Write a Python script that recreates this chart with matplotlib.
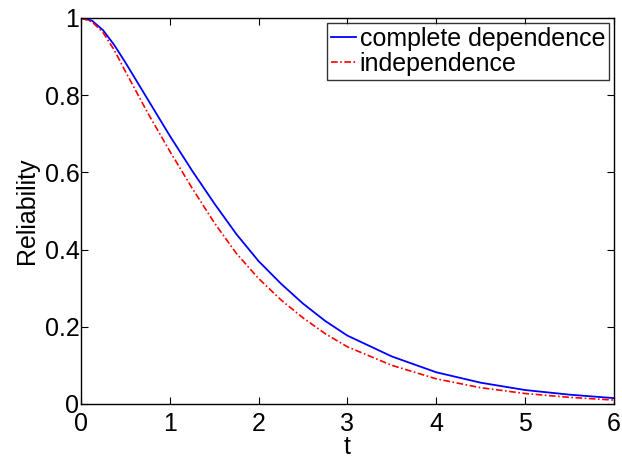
import matplotlib
matplotlib.use("Agg")
import matplotlib.pyplot as plt

t = [0, 0.125, 0.25, 0.375, 0.5, 0.75, 1, 1.25, 1.5, 1.75, 2, 2.25, 2.5, 2.75, 3, 3.5, 4, 4.5, 5, 5.5, 6]
complete_dep = [1, 0.993, 0.968, 0.93, 0.885, 0.79, 0.695, 0.605, 0.52, 0.44, 0.37, 0.312, 0.26, 0.215,
                0.177, 0.123, 0.082, 0.055, 0.036, 0.024, 0.015]
independence = [1, 0.99, 0.962, 0.917, 0.862, 0.755, 0.655, 0.56, 0.47, 0.39, 0.325, 0.27, 0.223, 0.182,
                0.148, 0.10, 0.065, 0.042, 0.027, 0.017, 0.010]
xticks = [0, 1, 2, 3, 4, 5, 6]
yticks = [0, 0.2, 0.4, 0.6, 0.8, 1]
ytick_labels = ["0", "0.2", "0.4", "0.6", "0.8", "1"]

plt.rcParams['font.family'] = ['Liberation Sans', 'DejaVu Sans']

fig = plt.figure(figsize=(6.22, 4.59), dpi=100)
ax = fig.add_axes([0.130, 0.120, 0.857, 0.841])
ax.plot(t, complete_dep, color='#0000ff', lw=1.3, label='complete dependence')
ax.plot(t, independence, color='#ff0000', lw=1.2, ls='-.', dashes=(4, 1.5, 1, 1.5),
        label='independence')
ax.set_xlim(0, 6)
ax.set_ylim(0, 1)
ax.set_xticks(xticks)
ax.set_xticklabels([str(v) for v in xticks])
ax.set_yticks(yticks)
ax.set_yticklabels(ytick_labels)
ax.tick_params(direction='in', length=5, width=0.8, labelsize=18, top=True, right=True)
ax.tick_params(axis='x', pad=6)
ax.tick_params(axis='y', pad=1)
for s in ax.spines.values():
    s.set_linewidth(1.0)
ax.set_xlabel('t', fontsize=18, labelpad=-1)
ax.set_ylabel('Reliability', fontsize=18, labelpad=4)
leg = ax.legend(loc='upper right', fontsize=18, frameon=True, fancybox=False,
                edgecolor='black', handlelength=1.0, handletextpad=0.15,
                borderpad=0.15, labelspacing=0.05, borderaxespad=0.2)
leg.get_frame().set_linewidth(1.0)
fig.savefig('out.png', dpi=100)
